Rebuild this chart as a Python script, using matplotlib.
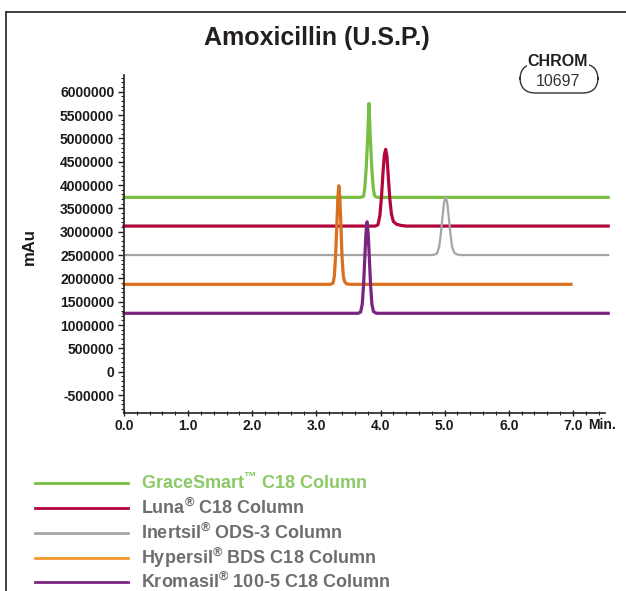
import matplotlib
matplotlib.use("Agg")
import matplotlib.pyplot as plt
from matplotlib.ticker import MultipleLocator, FixedLocator
from matplotlib.patches import FancyBboxPatch
from matplotlib.lines import Line2D

# ---------------- data ----------------
title = "Amoxicillin (U.S.P.)"
y_label = "mAu"
x_ticks = [0, 1, 2, 3, 4, 5, 6, 7]
x_tick_labels = ["0.0", "1.0", "2.0", "3.0", "4.0", "5.0", "6.0", "7.0"]
y_ticks = [-500000, 0, 500000, 1000000, 1500000, 2000000, 2500000, 3000000,
           3500000, 4000000, 4500000, 5000000, 5500000, 6000000]

green_t = [0.0, 3.69, 3.735, 3.755, 3.777, 3.798, 3.82, 3.842, 3.863, 3.885, 3.905, 3.93, 3.96, 7.55]
green_v = [3737000, 3737000, 3760000, 3940000, 4380000, 4970000, 5750000, 4970000, 4380000,
           3950000, 3780000, 3745000, 3737000, 3737000]

red_t = [0.0, 3.92, 3.96, 3.99, 4.015, 4.04, 4.06, 4.08, 4.10, 4.12, 4.145, 4.17, 4.20, 4.25, 4.32, 4.40, 7.55]
red_v = [3122000, 3122000, 3150000, 3350000, 3750000, 4300000, 4650000, 4766000, 4620000,
         4200000, 3700000, 3380000, 3220000, 3160000, 3135000, 3122000, 3122000]

gray_t = [0.0, 4.82, 4.88, 4.915, 4.94, 4.965, 4.99, 5.015, 5.04, 5.065, 5.09, 5.115, 5.15, 5.20, 5.25, 7.55]
gray_v = [2501000, 2501000, 2530000, 2680000, 2950000, 3300000, 3620000, 3750000, 3620000,
          3300000, 2950000, 2680000, 2550000, 2510000, 2501000, 2501000]

orange_t = [0.0, 3.22, 3.26, 3.28, 3.30, 3.32, 3.335, 3.35, 3.365, 3.38, 3.40, 3.42, 3.44, 3.47, 3.52, 6.97]
orange_v = [1873000, 1873000, 1900000, 2050000, 2500000, 3200000, 3750000, 3986000, 3750000,
            3200000, 2450000, 2050000, 1930000, 1885000, 1873000, 1873000]

purple_t = [0.0, 3.65, 3.69, 3.715, 3.735, 3.755, 3.772, 3.79, 3.808, 3.825, 3.845, 3.865, 3.89, 3.93, 3.97, 7.55]
purple_v = [1252000, 1252000, 1280000, 1450000, 1850000, 2450000, 2950000, 3214000, 2950000,
            2450000, 1850000, 1450000, 1290000, 1255000, 1252000, 1252000]

series_names = ["GraceSmart$^{\u2122}$ C18 Column", "Luna$^{\u00ae}$ C18 Column",
                "Inertsil$^{\u00ae}$ ODS-3 Column", "Hypersil$^{\u00ae}$ BDS C18 Column",
                "Kromasil$^{\u00ae}$ 100-5 C18 Column"]
line_colors = ["#78be43", "#b0063a", "#a5a5a5", "#d9701f", "#7a2580"]
legend_line_colors = ["#78be43", "#b0063a", "#a5a5a5", "#f29a2e", "#7a2580"]
legend_text_colors = ["#8cc966", "#6d6e70", "#6d6e70", "#6d6e70", "#6d6e70"]
badge_top = "CHROM"
badge_bottom = "10697"

# ---------------- style ----------------
plt.rcParams['font.family'] = ['Liberation Sans', 'DejaVu Sans']
plt.rcParams['mathtext.fontset'] = 'custom'
plt.rcParams['mathtext.rm'] = 'Liberation Sans:bold'
plt.rcParams['mathtext.it'] = 'Liberation Sans:bold'
plt.rcParams['mathtext.bf'] = 'Liberation Sans:bold'

W, H = 626, 591
fig = plt.figure(figsize=(W / 100, H / 100), dpi=100)

def fx(px):
    return px / W

def fy(py):
    return 1 - py / H

ax = fig.add_axes([fx(124), fy(413), fx(605) - fx(124), fy(75) - fy(413)])

series = [(green_t, green_v), (red_t, red_v), (gray_t, gray_v), (orange_t, orange_v), (purple_t, purple_v)]
widths = [2.3, 2.3, 1.6, 2.3, 2.3]
for (t, v), c, lw in zip(series, line_colors, widths):
    ax.plot(t, v, color=c, lw=lw, solid_joinstyle='round', clip_on=False)

ax.set_xlim(0, 7.5)
ax.set_ylim(-885000, 6360000)
for s in ["top", "right"]:
    ax.spines[s].set_visible(False)
for s in ["left", "bottom"]:
    ax.spines[s].set_linewidth(1.2)
    ax.spines[s].set_color("#222222")

ax.xaxis.set_major_locator(FixedLocator(x_ticks))
ax.set_xticklabels(x_tick_labels)
ax.xaxis.set_minor_locator(MultipleLocator(0.2))
ax.yaxis.set_major_locator(FixedLocator(y_ticks))
ax.set_yticklabels([str(v) for v in y_ticks])
ax.yaxis.set_minor_locator(MultipleLocator(100000))

ax.tick_params(axis='y', which='major', direction='out', length=4, width=1, pad=3,
               labelsize=10, colors="#222222")
ax.tick_params(axis='y', which='minor', direction='out', length=2.5, width=0.8, colors="#222222")
ax.tick_params(axis='x', which='major', direction='inout', length=5, width=1, pad=2,
               labelsize=10, colors="#222222")
ax.tick_params(axis='x', which='minor', direction='inout', length=3, width=0.8, colors="#222222")
for lab in ax.get_xticklabels() + ax.get_yticklabels():
    lab.set_fontweight('bold')
    lab.set_color('#1a1a1a')

ax.annotate("Min.", xy=(7.0, 0), xycoords=('data', 'axes fraction'),
            xytext=(15, -5), textcoords='offset pixels', ha='left', va='top',
            fontsize=10, fontweight='bold', color='#1a1a1a', annotation_clip=False)

fig.text(fx(29), fy(247), y_label, rotation=90, ha='center', va='center',
         fontsize=12, fontweight='bold', color='#1a1a1a')

fig.text(fx(317), fy(38), title, ha='center', va='center', fontsize=18,
         fontweight='bold', color='#231f20')

# figure border
fig.add_artist(Line2D([fx(6), fx(6)], [fy(12), 0], color='#333333', lw=1.3))
fig.add_artist(Line2D([fx(6), 1], [fy(12), fy(12)], color='#333333', lw=1.3))

# badge
badge = FancyBboxPatch((fx(520), fy(93)), fx(598) - fx(520), fy(64) - fy(93),
                       boxstyle="round,pad=0,rounding_size=0.025",
                       transform=fig.transFigure, fill=False, ec='#333333', lw=1.0,
                       mutation_aspect=W / H)
fig.add_artist(badge)
fig.text(fx(558), fy(62), badge_top, ha='center', va='center', fontsize=11.5,
         fontweight='bold', color='#231f20',
         bbox=dict(boxstyle='square,pad=0.05', fc='white', ec='none'))
fig.text(fx(558), fy(82), badge_bottom, ha='center', va='center', fontsize=11.5,
         color='#333333')

# legend
rows = [482.7, 507.7, 532.7, 557.7, 582.0]
for name, lc, tc, yy in zip(series_names, legend_line_colors, legend_text_colors, rows):
    fig.add_artist(Line2D([fx(35), fx(128)], [fy(yy), fy(yy)], color=lc, lw=2.0))
    fig.text(fx(141), fy(yy), name, ha='left', va='center', fontsize=13,
             fontweight='bold', color=tc)

fig.savefig("out.png", dpi=100)
